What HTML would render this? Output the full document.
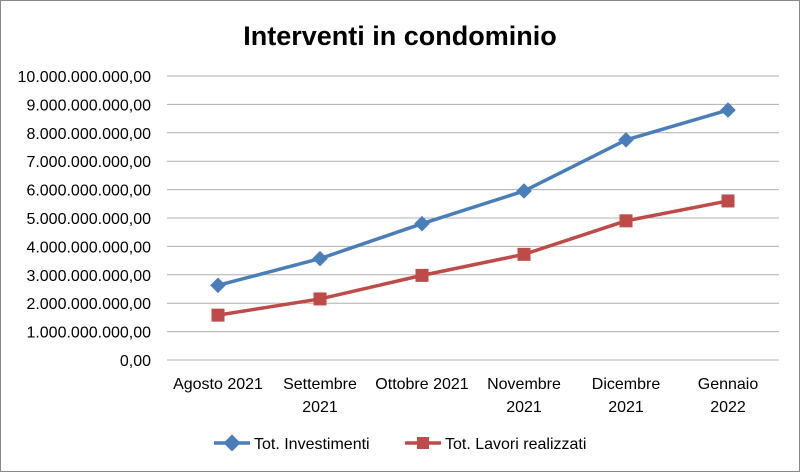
<!DOCTYPE html>
<html><head><meta charset="utf-8"><style>
body{margin:0;background:#fff}
svg{display:block;font-family:"Liberation Sans",Calibri,sans-serif}
</style></head><body>
<svg id="c" width="800" height="472" xmlns="http://www.w3.org/2000/svg">
<rect x="0.5" y="0.5" width="799" height="471" fill="#fff" stroke="#888"/>
<text x="400" y="45" text-anchor="middle" font-size="27" font-weight="bold" fill="#000">Interventi in condominio</text>
<g id="grid"></g><g id="ylab"></g><g id="xlab"></g><g id="series"></g>
<g>
<line x1="214" y1="443" x2="250" y2="443" stroke="#4a7ebb" stroke-width="3.5"/>
<rect x="226" y="437" width="12" height="12" fill="#4a7ebb" transform="rotate(45 232 443)"/>
<text x="254" y="449" font-size="16" fill="#000">Tot. Investimenti</text>
<line x1="405" y1="443" x2="441" y2="443" stroke="#be4b48" stroke-width="3.5"/>
<rect x="417" y="437" width="12" height="12" fill="#be4b48"/>
<text x="445" y="449" font-size="16" fill="#000">Tot. Lavori realizzati</text>
</g>
</svg>
<script>
const categories=[["Agosto 2021"],["Settembre","2021"],["Ottobre 2021"],["Novembre","2021"],["Dicembre","2021"],["Gennaio","2022"]];
const investimenti=[2.63e9,3.57e9,4.8e9,5.95e9,7.75e9,8.8e9];
const lavori=[1.58e9,2.15e9,2.98e9,3.72e9,4.9e9,5.6e9];
const yTicks=[0,1e9,2e9,3e9,4e9,5e9,6e9,7e9,8e9,9e9,1e10];
const yTickLabels=["0,00","1.000.000.000,00","2.000.000.000,00","3.000.000.000,00","4.000.000.000,00","5.000.000.000,00","6.000.000.000,00","7.000.000.000,00","8.000.000.000,00","9.000.000.000,00","10.000.000.000,00"];
const NS="http://www.w3.org/2000/svg";
const x0=167,x1=779,yTop=76,yBot=360,yMax=1e10;
const y=v=>yBot-(v/yMax)*(yBot-yTop);
const bw=(x1-x0)/categories.length;
const x=i=>x0+bw*(i+0.5);
function mk(t,a,p){const e=document.createElementNS(NS,t);for(const k in a)e.setAttribute(k,a[k]);p.appendChild(e);return e;}
const grid=document.getElementById('grid'),yl=document.getElementById('ylab'),xl=document.getElementById('xlab'),sr=document.getElementById('series');
yTicks.forEach((v,i)=>{
 const l=mk('line',{x1:x0,x2:x1,y1:y(v),y2:y(v),stroke:'#b0b0b0','stroke-width':1},grid);
 
 
 const t=mk('text',{x:151,y:y(v)+6,'text-anchor':'end','font-size':16,fill:'#000'},yl);
 t.textContent=yTickLabels[i];
 
 
});
categories.forEach((c,i)=>{
 c.forEach((s,j)=>{
  const t=mk('text',{x:x(i),y:389+j*23,'text-anchor':'middle','font-size':16,fill:'#000'},xl);
  t.textContent=s;
  
  
 });
});
function series(d,col,shape,name){
 const p=mk('polyline',{points:d.map((v,i)=>x(i)+','+y(v)).join(' '),fill:'none',stroke:col,'stroke-width':3.5,'stroke-linejoin':'round'},sr);
 
 
 d.forEach((v,i)=>{
  let m;
  if(shape==='d') m=mk('rect',{x:x(i)-5.5,y:y(v)-5.5,width:11,height:11,fill:col,transform:`rotate(45 ${x(i)} ${y(v)})`},sr);
  else m=mk('rect',{x:x(i)-6.5,y:y(v)-6.5,width:13,height:13,fill:col},sr);
  
  
 });
}
series(investimenti,'#4a7ebb','d','investimenti');
series(lavori,'#be4b48','s','lavori');
</script>
</body></html>
